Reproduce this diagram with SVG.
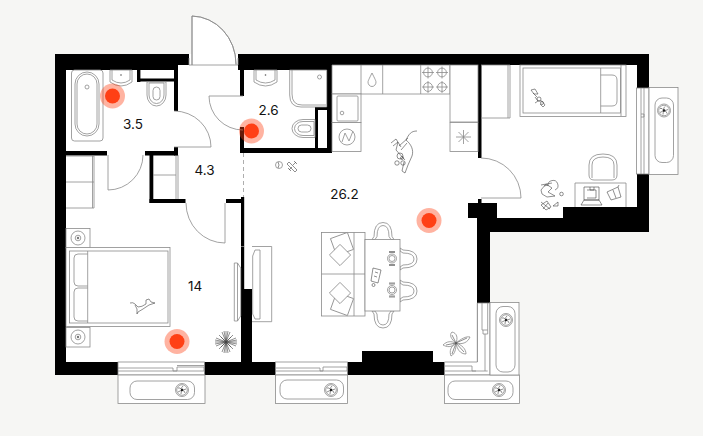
<svg xmlns="http://www.w3.org/2000/svg" width="703" height="436" viewBox="0 0 703 436">
<style>
.w{fill:#000}.r{fill:#fff}
.l{fill:none;stroke:#8a8a8a;stroke-width:.8}
.f{fill:#fff;stroke:#8a8a8a;stroke-width:.8}
.d{fill:none;stroke:#444;stroke-width:.6}
.t{font:13.5px Inter,"Liberation Sans",sans-serif;fill:#111;text-anchor:middle}
.h{fill:#ff4015;opacity:.4}.c{fill:#ff4015}
</style>
<defs>
<g id="flw"><circle r="6.5" class="f"/><circle r="5.3" class="l"/><path class="d" d="M-4-2Q-2-3 0 0Q-1-3 1-4M4-1Q2 0 0 0Q3 1 3 3M-1 4Q-1 2 0 0Q-2 1-4 2"/><circle r="1.200" fill="#222"/></g>
<g id="side"><rect x="-12" y="-9.500" width="24" height="19.500" class="f"/><circle r="7" class="l"/><circle r="2.800" class="l"/><circle r="1.200" fill="#777"/></g>
<g id="cu"><rect x="-9" y="-9" width="18" height="18" class="f" transform="translate(2,-5) rotate(-20)"/><rect x="-7.500" y="-7.500" width="15" height="15" class="f" transform="translate(0,6) rotate(45)"/></g>
<g id="brn"><circle r="4.400" class="l"/><path class="l" d="M-6 0H6M0-6V6"/></g>
<g id="plate"><circle r="4.500" class="l"/><circle r="3" class="l"/><path class="d" d="M-3-7H3M-3-6H3M-3 6H3M-3 7H3"/></g>
<g id="chair"><path class="f" d="M-11 0-9-3Q-9-17 0-17Q9-17 9-3L11 0H8L6-3Q6-14 0-14Q-6-14-6-3L-8 0Z"/></g>
</defs>
<rect width="703" height="436" fill="#f6f6f4"/>
<g id="shell">
<path class="w" d="M55 54H649V232H490V375H55Z"/>
<path class="r" d="M66 70H178V65H637V207H563V218H497V203H468V218H477V362H433V351H362V362H66Z"/>
<rect class="r" x="189" y="54" width="49" height="12"/>
</g>
<g id="walls" class="w">
<rect x="238" y="54" width="94" height="16"/>
<rect x="327" y="65" width="5" height="88"/>
<rect x="240" y="148" width="92" height="5"/>
<rect x="315" y="107" width="3" height="41"/>
<rect x="315" y="107" width="12" height="3"/>
<rect x="240" y="65" width="4" height="31"/>
<rect x="240" y="127" width="4" height="26"/>
<rect x="137" y="70" width="3.400" height="12"/>
<rect x="137" y="78.500" width="41" height="3"/>
<rect x="174" y="65" width="4" height="46"/>
<rect x="174" y="147" width="4" height="8.500"/>
<rect x="66" y="151" width="41" height="4.500"/>
<rect x="145" y="151" width="33" height="4.500"/>
<rect x="149.500" y="155" width="3.800" height="48"/>
<rect x="149.500" y="199" width="36" height="4"/>
<rect x="226" y="199" width="18" height="4"/>
<rect x="241" y="197" width="3.200" height="92"/>
<rect x="241" y="289" width="11" height="74"/>
<rect x="478" y="65" width="3.500" height="93"/>
<rect x="478" y="199" width="3.500" height="5"/>
</g>
<g id="dashes"><path d="M243.500 153V197" fill="none" stroke="#999" stroke-width=".8" stroke-dasharray="4 3"/></g>
<g id="doors">
<path class="f" d="M192 65V16A45 48 0 0 1 236 64V65Z" stroke="none"/>
<path class="l" d="M192 65V16A45 48 0 0 1 236 64M189 58V65H192M236 65H238V58"/>
<path class="l" d="M243 96H209A34 34 0 0 0 243 130"/>
<path class="l" d="M174 147H211A37 36 0 0 0 174 111"/>
<path class="l" d="M108 155V190A35 35 0 0 0 143 155"/>
<path class="l" d="M225 203V243A39 40 0 0 1 186 203"/>
<path class="l" d="M481 158A40 40 0 0 1 521 198H481"/>
</g>
<g id="bath1">
<rect class="f" x="71.500" y="70" width="31.500" height="71" rx="3"/>
<rect class="l" x="77" y="74" width="20" height="60" rx="10"/>
<rect class="l" x="75" y="72" width="24" height="64" rx="12"/>
<circle class="l" cx="87" cy="87" r="2"/>
<path class="f" d="M110 70H132V82Q121 90 110 82Z"/><path class="l" d="M112 70V80Q121 86 130 80V70"/><circle cx="121" cy="75" r=".8" fill="#555"/>
<path class="f" d="M147 82H166V95A9.500 11 0 0 1 147 95Z"/><path class="l" d="M149 83H164V95A7.500 8.500 0 0 1 149 95Z"/><rect class="l" x="153" y="87" width="7" height="13" rx="3.500"/>
</g>
<g id="bath2">
<path class="f" d="M254 70H277V82Q265.500 90 254 82Z"/><path class="l" d="M256 70V80Q265.500 86 275 80V70"/><circle cx="265.500" cy="75" r=".8" fill="#555"/>
<path class="f" d="M289.700 70H326.700V107H301Q289.700 107 289.700 95Z"/><path class="l" d="M292 70V94Q292 105 302 105H326"/><circle class="l" cx="319.500" cy="77" r="2"/>
<path class="f" d="M315 119.500V137.500H303A11 9 0 0 1 303 119.500Z"/><path class="l" d="M314 121.500V135.500H303A8.500 7 0 0 1 303 121.500Z"/><rect class="l" x="298" y="125" width="13" height="7" rx="3.500"/>
</g>
<g id="closet1"><path class="l" d="M176 155V199M178 155V199M153 175H176"/></g>
<g id="closet2"><path class="l" d="M66 156H94V208H66M92.500 156V208M66 182H94"/></g>
<g id="bedroom">
<use href="#side" x="78" y="238"/><use href="#side" x="78" y="337"/>
<rect class="f" x="66" y="247.500" width="104" height="79"/>
<rect class="l" x="69.500" y="251" width="98.500" height="72"/>
<path class="l" d="M87.700 251V323"/>
<path class="l" d="M87.700 254H78Q74 254 74 258V282Q74 286 78 286H87.700M87.700 288H78Q74 288 74 292V317Q74 321 78 321H87.700"/>
<path class="d" d="M130 303Q133 302 135 304L138 307Q142 307 146 304L146 300 149 299 151 302 155 303 149 305 143 309 138 312 137 314 137 309 135 305"/>
<path class="f" d="M234.300 263H237.500L240.700 268V316L237.500 321H234.300Z"/><path class="l" d="M237.500 263V321"/>
<path class="d" d="M226 331V353M215 342H237M219 335 233 349M233 335 219 349M222 332 230 352M230 332 222 352M216 338 236 346M216 346 236 338M224 331 228 353M228 331 224 353M215 340 237 344M215 344 237 340M221 337 231 347M231 337 221 347"/>
</g>
<g id="kitchen">
<path class="f" d="M332 65H450V94H332Z"/><path class="l" d="M361 65V94M382.700 65V94M420.700 65V94"/>
<rect class="f" x="332" y="94" width="29" height="28.500"/><rect class="f" x="332" y="122.500" width="29" height="29"/>
<rect class="l" x="337" y="96" width="21" height="25" rx="1"/><circle class="l" cx="342" cy="113" r="1.800"/>
<circle class="l" cx="347" cy="137" r="8"/><path class="l" d="M342 142 345 133 349 141 353 131"/>
<rect class="f" x="450" y="65" width="28" height="57"/><rect class="f" x="450" y="122.500" width="28" height="29"/>
<path class="l" d="M463.500 130V144M456 137H471M458.500 132 468.500 142M468.500 132 458.500 142"/>
<path class="l" d="M372 73C369 79 368 81 368 82A4 4.500 0 0 0 376 82C376 81 375 79 372 73Z"/>
<use href="#brn" x="428" y="72.500"/><use href="#brn" x="442" y="72.500"/><use href="#brn" x="428" y="87"/><use href="#brn" x="442" y="87"/>
</g>
<g id="toys">
<path class="d" d="M417 131C411 131 409 134 406 140 411 144 414 150 412 156L408 165 405 173 402 171 404 162M391 143 396 139 401 147M393 146 398 142 396 150M399 146 408 138"/>
<path class="d" d="M401 150 407 143M396 150 405 160"/>
<circle class="d" cx="400" cy="156" r="3"/><circle class="d" cx="403" cy="163" r="2.200"/><circle class="d" cx="397" cy="163" r="2.200"/><circle class="d" cx="402" cy="158" r="1.500"/>
<circle class="l" cx="279" cy="165" r="3.500"/><path class="d" d="M278 162Q280 165 278 168"/>
<path class="d" d="M287 164 289 162 297 170 295 172ZM289 170 292 167M293 165 296 162M288 168 291 171M294 161 297 164"/>
</g>
<g id="bedroom2">
<path class="l" d="M481 65H510V118H481M508 65V118"/>
<rect class="f" x="520" y="65" width="106" height="51.500"/>
<rect class="l" x="523" y="68" width="97.500" height="45"/>
<path class="l" d="M600.700 68V113M600.700 75H612Q617 75 617 80V101Q617 106 612 106H600.700M621 65V116"/>
<path class="d" d="M531 90 535 89 538 94 534 94ZM533 93 537 97M535 97 538 101 542 101 545 105 543 107 540 104M538 101 535 103"/><circle class="d" cx="539" cy="99" r="2"/><circle class="d" cx="542" cy="103" r="1.500"/>
<path class="f" d="M589 165Q589 154 603 154Q617 154 617 165V175Q617 180 612 180H594Q589 180 589 175Z"/><path class="l" d="M592 178V165Q592 157 603 157Q614 157 614 165V178"/>
<path class="l" d="M575 207V183H626V207"/>
<path class="d" d="M584 187H599V200H584ZM587 190H596V198H587M590 187V190H594V187M581 205 584 200H599L602 205Z"/>
<path class="d" d="M607 192 618 187 621 197 611 200ZM613 190 616 198M618 187 619 185"/>
<path class="d" d="M541 185 552 183M541 190 546 184 552 188 548 192 555 196 547 197 542 194ZM555 190A5 5 0 1 0 548 186M544 186 548 185"/>
<circle class="d" cx="561.500" cy="194" r="1.800"/>
<path class="d" d="M541 205 547 201 551 207 546 210ZM541 202 550 209M548 203 543 209M553 206 558 202 558 206Z"/>
</g>
<g id="dining">
<rect class="f" x="321.500" y="232.500" width="43.500" height="83.500"/>
<path class="l" d="M321.500 274H365M354 232.500V316"/>
<use href="#cu" x="340" y="249"/>
<g transform="translate(340 299) scale(1 -1)"><use href="#cu"/></g>
<use href="#chair" transform="translate(383 239.500)"/>
<use href="#chair" transform="translate(383 311) scale(1 -1)"/>
<use href="#chair" transform="translate(400 259) rotate(90)"/>
<use href="#chair" transform="translate(400 291) rotate(90)"/>
<rect class="f" x="365" y="239.500" width="35" height="71.500"/>
<use href="#plate" x="392" y="258.500"/><use href="#plate" x="392" y="290"/>
<path class="d" d="M373 268 381 270 378 283 371 281ZM375 272 378 273M374 276 377 277"/><circle class="d" cx="373.500" cy="285" r="1.500"/>
</g>
<g id="tvliving">
<path class="l" d="M252 246.500H271.700V321.700H252M244 246.500H241"/>
<path class="f" d="M255 250H260V319H255L252.700 314V256Z"/>
</g>
<g id="plant">
<path class="f" d="M456 343C451 339 449 335 452 332 457 333 458 338 456 343ZM456 343C461 339 466 336 470 337 468 342 463 345 456 343ZM456 343C462 345 466 349 466 354 460 354 457 349 456 343ZM456 343C456 349 455 354 451 356 449 351 451 346 456 343ZM456 343C451 348 447 347 443 345 447 341 451 341 456 343Z"/>
<path class="d" d="M452 335 456 343M467 338 456 343M464 352 456 343M452 354 456 343M446 345 456 343"/>
</g>
<g id="window-1">
<rect class="f" x="118" y="362" width="86.500" height="13"/>
<path class="l" d="M118 368H173M118 371H204M173 368V371H177V367H204V371M177 365.500H204"/>
<rect class="f" x="118" y="375" width="87" height="28.500"/>
<rect class="l" x="130" y="381" width="64.500" height="18.500" rx="7"/>
<use href="#flw" x="182" y="390"/>
</g>
<g id="window-2">
<rect class="f" x="275.500" y="362" width="72" height="13"/>
<path class="l" d="M275.500 368H320M275.500 371H347M320 368V371H323V367H347V371"/>
<rect class="f" x="275.500" y="375" width="72" height="28.500"/>
<rect class="l" x="280" y="380" width="63.500" height="19" rx="7"/>
<use href="#flw" x="331" y="390"/>
</g>
<g id="window-3">
<path class="f" d="M477.300 303H490V375H444.500V362H477.300Z"/>
<path class="l" d="M444.500 366H472M444.500 371H487.700M472 366V371H476M482 303V330H487.700M483 330V334H487.700V303M485 334V371"/>
<rect class="f" x="444.500" y="375" width="75" height="28.500"/>
<rect class="l" x="448" y="381" width="65" height="18.500" rx="7"/>
<use href="#flw" x="499" y="390"/>
<rect class="f" x="490" y="302.500" width="29" height="72.500"/>
<rect class="l" x="496" y="306.500" width="19" height="65.500" rx="7"/>
<use href="#flw" x="506" y="320"/>
</g>
<g id="window-4">
<rect class="f" x="636.500" y="88" width="12.500" height="86"/>
<path class="l" d="M641 88V174M644 88V174M641 114H644V117H641"/>
<rect class="f" x="649" y="87.500" width="29" height="87"/>
<rect class="l" x="655" y="98" width="18.500" height="64.500" rx="7"/>
<use href="#flw" x="664" y="110.500"/>
</g>
<g id="labels">
<text class="t" x="133" y="129">3.5</text>
<text class="t" x="204.500" y="175">4.3</text>
<text class="t" x="268.500" y="115">2.6</text>
<text class="t" x="344.500" y="199">26.2</text>
<text class="t" x="195" y="291">14</text>
</g>
<g id="markers">
<circle class="h" cx="112.500" cy="96" r="12.500"/><circle class="c" cx="112.500" cy="96" r="7.500"/>
<circle class="h" cx="251.500" cy="131" r="12.500"/><circle class="c" cx="251.500" cy="131" r="7.500"/>
<circle class="h" cx="429" cy="220.500" r="12.500"/><circle class="c" cx="429" cy="220.500" r="7.500"/>
<circle class="h" cx="177" cy="341.500" r="12.500"/><circle class="c" cx="177" cy="341.500" r="7.500"/>
</g>
</svg>
